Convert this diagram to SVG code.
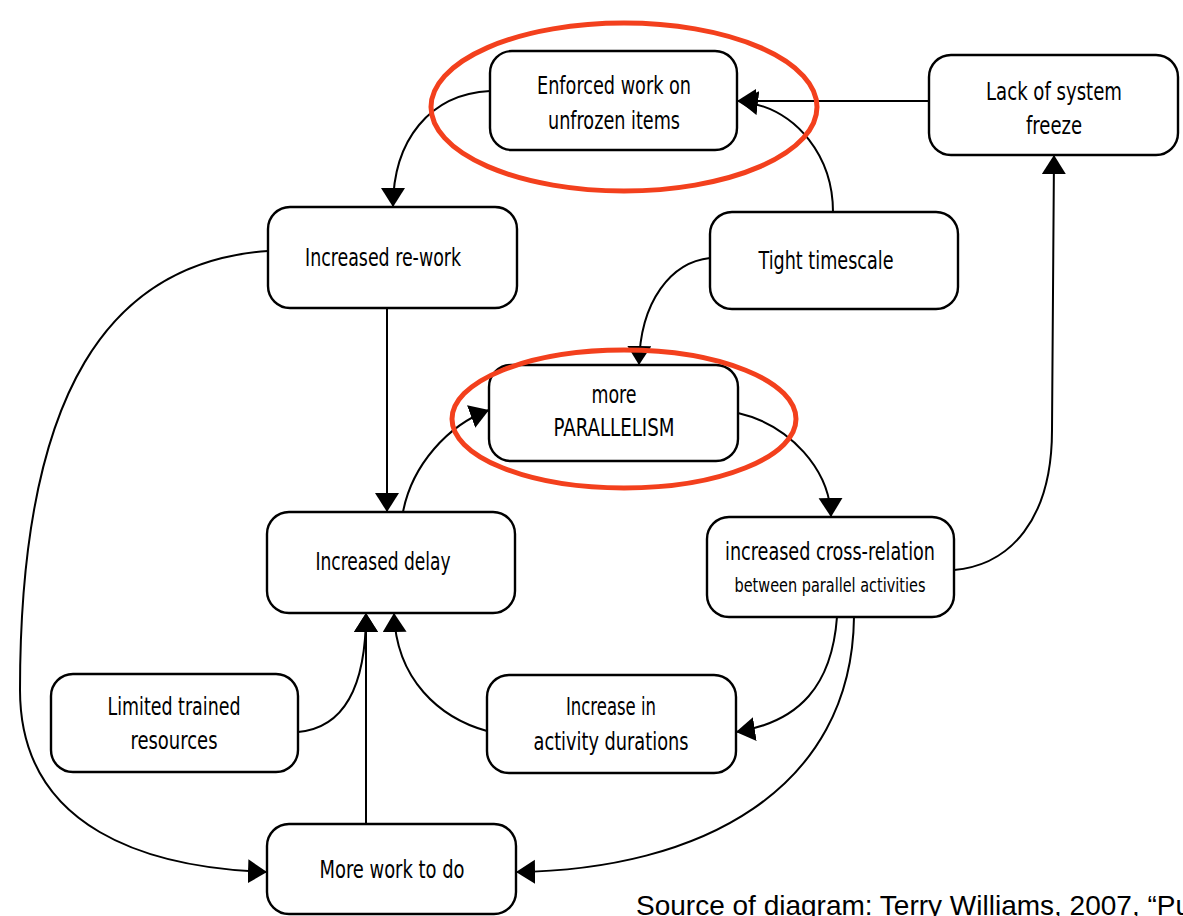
<svg xmlns="http://www.w3.org/2000/svg" width="1183" height="916" viewBox="0 0 1183 916">
<defs>
<style>
.box{fill:#fff;stroke:#000;stroke-width:2.4}
.t{font-family:"DejaVu Sans Condensed","Liberation Sans",sans-serif;font-size:24px;fill:#000;text-anchor:middle}
.ts{font-family:"DejaVu Sans Condensed","Liberation Sans",sans-serif;font-size:20px;fill:#000;text-anchor:middle}
.c{fill:none;stroke:#000;stroke-width:2}
.hl{fill:none;stroke:#f3401d;stroke-width:5}
.src{font-family:"Liberation Sans",Arial,sans-serif;font-size:28px;fill:#000}
</style>
<marker id="ah" markerUnits="userSpaceOnUse" markerWidth="22" markerHeight="26" refX="19" refY="12" orient="auto">
<path d="M0,0 L19,12 L0,24 Z" fill="#000"/>
</marker>
</defs>

<g id="connectors">
<path class="c" d="M929,101 L737,101" marker-end="url(#ah)"/>
<path class="c" d="M833,212 C833,160 800,108 739,101" marker-end="url(#ah)"/>
<path class="c" d="M490,91 C430,94 393,140 393,207" marker-end="url(#ah)"/>
<path class="c" d="M710,258 C672,262 640,300 639,365" marker-end="url(#ah)"/>
<path class="c" d="M387,308 L387,512" marker-end="url(#ah)"/>
<path class="c" d="M403,512 C412,465 448,425 489,410" marker-end="url(#ah)"/>
<path class="c" d="M738,413 C790,425 830,470 831,517" marker-end="url(#ah)"/>
<path class="c" d="M954,570 C1010,565 1052,520 1052,430 L1054,155" marker-end="url(#ah)"/>
<path class="c" d="M837,617 C832,685 800,722 736,732" marker-end="url(#ah)"/>
<path class="c" d="M854,617 C852,790 700,870 516,872" marker-end="url(#ah)"/>
<path class="c" d="M487,731 C440,718 396,680 394,613" marker-end="url(#ah)"/>
<path class="c" d="M298,732 C342,728 366,690 366,613" marker-end="url(#ah)"/>
<path class="c" d="M366,824 L366,613" marker-end="url(#ah)"/>
<path class="c" d="M268,251 C110,262 20,390 20,690 C20,830 150,868 267,872" marker-end="url(#ah)"/>
</g>

<g id="n-enforced">
<rect class="box" x="490" y="51" width="247" height="99" rx="22"/>
<text class="t" x="614" y="94" textLength="154" lengthAdjust="spacingAndGlyphs">Enforced work on</text>
<text class="t" x="614" y="129" textLength="132" lengthAdjust="spacingAndGlyphs">unfrozen items</text>
</g>
<g id="n-lack">
<rect class="box" x="929" y="55" width="249" height="100" rx="22"/>
<text class="t" x="1054" y="100" textLength="136" lengthAdjust="spacingAndGlyphs">Lack of system</text>
<text class="t" x="1054" y="134" textLength="56" lengthAdjust="spacingAndGlyphs">freeze</text>
</g>
<g id="n-rework">
<rect class="box" x="268" y="207" width="249" height="101" rx="22"/>
<text class="t" x="383" y="266" textLength="156" lengthAdjust="spacingAndGlyphs">Increased re-work</text>
</g>
<g id="n-tight">
<rect class="box" x="710" y="212" width="248" height="97" rx="22"/>
<text class="t" x="826" y="269" textLength="135" lengthAdjust="spacingAndGlyphs">Tight timescale</text>
</g>
<g id="n-parallelism">
<rect class="box" x="489" y="365" width="249" height="96" rx="22"/>
<text class="t" x="614" y="403" textLength="45" lengthAdjust="spacingAndGlyphs">more</text>
<text class="t" x="614" y="436" textLength="121" lengthAdjust="spacingAndGlyphs">PARALLELISM</text>
</g>
<g id="n-delay">
<rect class="box" x="267" y="512" width="248" height="101" rx="22"/>
<text class="t" x="383" y="570" textLength="135" lengthAdjust="spacingAndGlyphs">Increased delay</text>
</g>
<g id="n-cross">
<rect class="box" x="707" y="517" width="247" height="100" rx="22"/>
<text class="t" x="830" y="560" textLength="210" lengthAdjust="spacingAndGlyphs">increased cross-relation</text>
<text class="ts" x="830" y="592" textLength="191" lengthAdjust="spacingAndGlyphs">between parallel activities</text>
</g>
<g id="n-limited">
<rect class="box" x="51" y="674" width="247" height="98" rx="22"/>
<text class="t" x="174" y="715" textLength="133" lengthAdjust="spacingAndGlyphs">Limited trained</text>
<text class="t" x="174" y="749" textLength="87" lengthAdjust="spacingAndGlyphs">resources</text>
</g>
<g id="n-activity">
<rect class="box" x="487" y="675" width="249" height="98" rx="22"/>
<text class="t" x="611" y="715" textLength="90" lengthAdjust="spacingAndGlyphs">Increase in</text>
<text class="t" x="611" y="750" textLength="155" lengthAdjust="spacingAndGlyphs">activity durations</text>
</g>
<g id="n-morework">
<rect class="box" x="267" y="824" width="249" height="90" rx="22"/>
<text class="t" x="392" y="878" textLength="145" lengthAdjust="spacingAndGlyphs">More work to do</text>
</g>

<g id="highlights">
<ellipse class="hl" cx="624" cy="107" rx="193" ry="84"/>
<ellipse class="hl" cx="624" cy="419" rx="172" ry="69"/>
</g>

<text class="src" x="636" y="915">Source of diagram: Terry Williams, 2007, “Pu</text>
</svg>
